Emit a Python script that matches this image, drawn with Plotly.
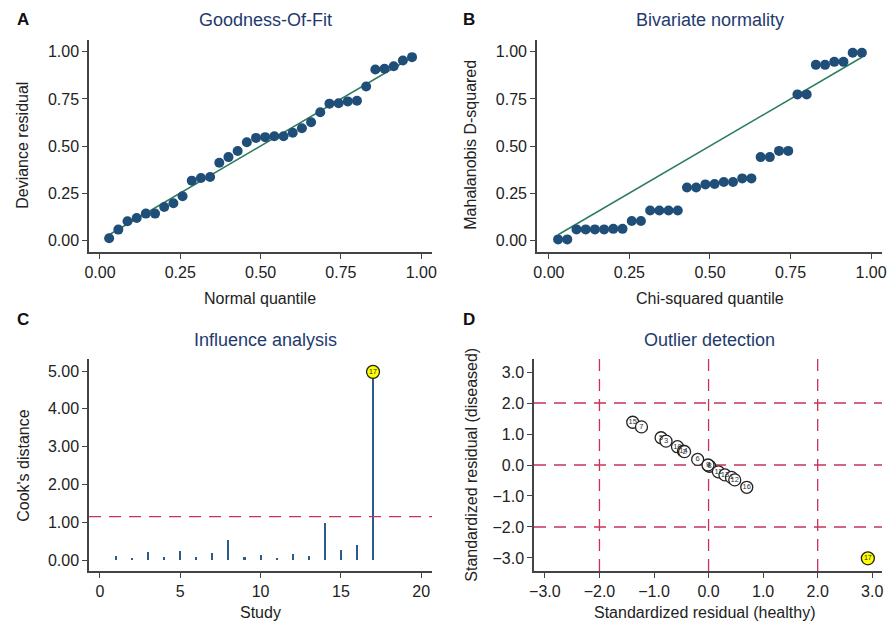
import plotly.graph_objects as go

W, H = 891, 623

# ---------------- data ----------------
# Panel A: Goodness-of-fit (34 points)
gof_quantile = [i / 35 for i in range(1, 35)]
gof_residual = [0.01, 0.056, 0.10, 0.118, 0.141, 0.141, 0.176, 0.196, 0.233, 0.316,
                0.330, 0.335, 0.411, 0.441, 0.473, 0.520, 0.543, 0.547, 0.552, 0.552,
                0.570, 0.594, 0.626, 0.679, 0.725, 0.727, 0.737, 0.740, 0.816, 0.906,
                0.910, 0.924, 0.954, 0.972]

# Panel B: Bivariate normality (34 points)
chi_quantile = [i / 35 for i in range(1, 35)]
maha_d2 = [0.004, 0.004, 0.057, 0.057, 0.057, 0.057, 0.060, 0.060, 0.102, 0.102,
           0.157, 0.157, 0.157, 0.157, 0.280, 0.280, 0.296, 0.298, 0.309, 0.309,
           0.328, 0.328, 0.441, 0.441, 0.474, 0.474, 0.774, 0.774, 0.931, 0.931,
           0.947, 0.947, 0.995, 0.995]

# Panel C: Influence analysis
studies = list(range(1, 18))
cooks_d = [0.11, 0.06, 0.20, 0.08, 0.23, 0.08, 0.19, 0.54, 0.09, 0.14,
           0.06, 0.16, 0.11, 0.97, 0.26, 0.41, 4.98]
cooks_threshold = 1.15
influential_study = 17

# Panel D: Outlier detection
study_labels = ["15", "7", "5", "3", "10", "14", "2", "6", "4", "8", "9",
                "11", "13", "1", "12", "16", "17"]
resid_healthy = [-1.39, -1.23, -0.87, -0.78, -0.57, -0.46, -0.44, -0.20, 0.00, 0.02,
                 -0.01, 0.18, 0.30, 0.42, 0.48, 0.70, 2.92]
resid_diseased = [1.38, 1.23, 0.88, 0.77, 0.59, 0.45, 0.43, 0.18, -0.02, -0.04,
                  0.00, -0.22, -0.32, -0.40, -0.48, -0.72, -3.01]
outlier_study = "17"
ref_lines = [-2, 0, 2]

# ---------------- styles ----------------
FONT = "Liberation Sans, Arial, sans-serif"
DOT = "#1F4E79"
FITLINE = "#2E7D5E"
TITLE = "#1F3A6E"
RED = "#C8325A"
SPIKE = "#2B5C8A"
AX = "#444444"


def px_x(p):
    return p / W


def px_y(p):
    return 1 - p / H


fig = go.Figure()

# domains (pixel based)
dom = {
    "A": ([85, 432], [40, 252]),
    "B": ([538, 887], [40, 252]),
    "C": ([85, 432], [359, 571]),
    "D": ([535, 887], [359, 571]),
}

# Panel A
fig.add_trace(go.Scatter(x=[gof_quantile[0], gof_quantile[-1]], y=[gof_quantile[0], gof_quantile[-1]],
                         mode="lines", line=dict(color=FITLINE, width=1.5), xaxis="x", yaxis="y",
                         showlegend=False, hoverinfo="skip"))
fig.add_trace(go.Scatter(x=gof_quantile, y=gof_residual, mode="markers",
                         marker=dict(color=DOT, size=10), xaxis="x", yaxis="y", showlegend=False))

# Panel B
fig.add_trace(go.Scatter(x=[chi_quantile[0], chi_quantile[-1]], y=[chi_quantile[0], chi_quantile[-1]],
                         mode="lines", line=dict(color=FITLINE, width=1.5), xaxis="x2", yaxis="y2",
                         showlegend=False, hoverinfo="skip"))
fig.add_trace(go.Scatter(x=chi_quantile, y=maha_d2, mode="markers",
                         marker=dict(color=DOT, size=10), xaxis="x2", yaxis="y2", showlegend=False))

# Panel C
fig.add_trace(go.Scatter(x=[-0.68, 20.68], y=[cooks_threshold, cooks_threshold], mode="lines",
                         line=dict(color=RED, width=1.3, dash="12px,8px"), xaxis="x3", yaxis="y3",
                         showlegend=False, hoverinfo="skip"))
fig.add_trace(go.Bar(x=studies, y=cooks_d, width=0.13, marker=dict(color=SPIKE, line=dict(width=0)),
                     xaxis="x3", yaxis="y3", showlegend=False))
idx = studies.index(influential_study)
fig.add_trace(go.Scatter(x=[studies[idx]], y=[cooks_d[idx]], mode="markers+text",
                         text=[str(influential_study)], textposition="middle center",
                         textfont=dict(size=7, color="#222222", family=FONT),
                         marker=dict(color="#FFFF00", size=13, line=dict(color="#222222", width=1.3)),
                         xaxis="x3", yaxis="y3", showlegend=False))

# Panel D reference lines
for v in ref_lines:
    fig.add_trace(go.Scatter(x=[v, v], y=[-3.42, 3.42], mode="lines",
                             line=dict(color=RED, width=1.3, dash="12px,8px"),
                             xaxis="x4", yaxis="y4", showlegend=False, hoverinfo="skip"))
    fig.add_trace(go.Scatter(x=[-3.2, 3.18], y=[v, v], mode="lines",
                             line=dict(color=RED, width=1.3, dash="12px,8px"),
                             xaxis="x4", yaxis="y4", showlegend=False, hoverinfo="skip"))

normal_idx = [i for i, s in enumerate(study_labels) if s != outlier_study]
out_idx = study_labels.index(outlier_study)
fig.add_trace(go.Scatter(x=[resid_healthy[i] for i in normal_idx],
                         y=[resid_diseased[i] for i in normal_idx],
                         text=[study_labels[i] for i in normal_idx],
                         mode="markers+text", textposition="middle center",
                         textfont=dict(size=7.5, color="#333333", family=FONT),
                         marker=dict(color="white", size=12, line=dict(color="#222222", width=1.3)),
                         xaxis="x4", yaxis="y4", showlegend=False))
fig.add_trace(go.Scatter(x=[resid_healthy[out_idx]], y=[resid_diseased[out_idx]],
                         text=[outlier_study], mode="markers+text", textposition="middle center",
                         textfont=dict(size=7, color="#222222", family=FONT),
                         marker=dict(color="#FFFF00", size=13, line=dict(color="#222222", width=1.3)),
                         xaxis="x4", yaxis="y4", showlegend=False))


def axis(domain_px, rng, tickvals, fmt, horizontal, anchor):
    if horizontal:
        d = [domain_px[0] / W, domain_px[1] / W]
    else:
        d = [1 - domain_px[1] / H, 1 - domain_px[0] / H]
    return dict(domain=d, range=rng, tickvals=tickvals, tickformat=fmt,
                showgrid=False, zeroline=False, showline=True, linecolor=AX, linewidth=1.5,
                ticks="outside", ticklen=5, tickwidth=1.3, tickcolor=AX,
                tickfont=dict(size=16, color="#222222", family=FONT),
                anchor=anchor, fixedrange=True)


q_ticks = [0, 0.25, 0.5, 0.75, 1.0]
fig.update_layout(
    width=W, height=H, margin=dict(l=0, r=0, t=0, b=0),
    paper_bgcolor="white", plot_bgcolor="white",
    font=dict(family=FONT),
    bargap=0,
    xaxis=axis(dom["A"][0], [-0.034, 1.034], q_ticks, ".2f", True, "y"),
    yaxis=axis(dom["A"][1], [-0.063, 1.063], q_ticks, ".2f", False, "x"),
    xaxis2=axis(dom["B"][0], [-0.037, 1.034], q_ticks, ".2f", True, "y2"),
    yaxis2=axis(dom["B"][1], [-0.063, 1.063], q_ticks, ".2f", False, "x2"),
    xaxis3=axis(dom["C"][0], [-0.68, 20.68], [0, 5, 10, 15, 20], "d", True, "y3"),
    yaxis3=axis(dom["C"][1], [-0.29, 5.32], [0, 1, 2, 3, 4, 5], ".2f", False, "x3"),
    xaxis4=axis(dom["D"][0], [-3.2, 3.18], [-3, -2, -1, 0, 1, 2, 3], ".1f", True, "y4"),
    yaxis4=axis(dom["D"][1], [-3.42, 3.42], [-3, -2, -1, 0, 1, 2, 3], ".1f", False, "x4"),
)

annotations = []


def ann(text, x, y, size, color="#222222", bold=False, angle=0):
    annotations.append(dict(text=f"<b>{text}</b>" if bold else text,
                            x=px_x(x), y=px_y(y), xref="paper", yref="paper",
                            showarrow=False, textangle=angle, xanchor="center", yanchor="middle",
                            font=dict(size=size, color=color, family=FONT)))


# panel letters
ann("A", 18, 20, 17, "#111111", bold=True)
ann("B", 469, 20, 17, "#111111", bold=True)
ann("C", 18, 320, 17, "#111111", bold=True)
ann("D", 469, 320, 17, "#111111", bold=True)
# panel titles
ann("Goodness-Of-Fit", 263, 20, 18, TITLE)
ann("Bivariate normality", 713, 20, 18, TITLE)
ann("Influence analysis", 263, 340, 18, TITLE)
ann("Outlier detection", 713, 340, 18, TITLE)
# axis titles
ann("Normal quantile", 258, 298, 16)
ann("Chi-squared quantile", 713, 298, 16)
ann("Study", 258, 612, 16)
ann("Standardized residual (healthy)", 707, 612, 16)
ann("Deviance residual", 18, 145, 16, angle=-90)
ann("Mahalanobis D-squared", 471, 145, 16, angle=-90)
ann("Cook's distance", 18, 465, 16, angle=-90)
ann("Standardized residual (diseased)", 471, 465, 16, angle=-90)

fig.update_layout(annotations=annotations)

fig.write_html("out.html", config={"displayModeBar": False},
               post_script="document.body.style.margin='0';document.body.style.overflow='hidden';")
